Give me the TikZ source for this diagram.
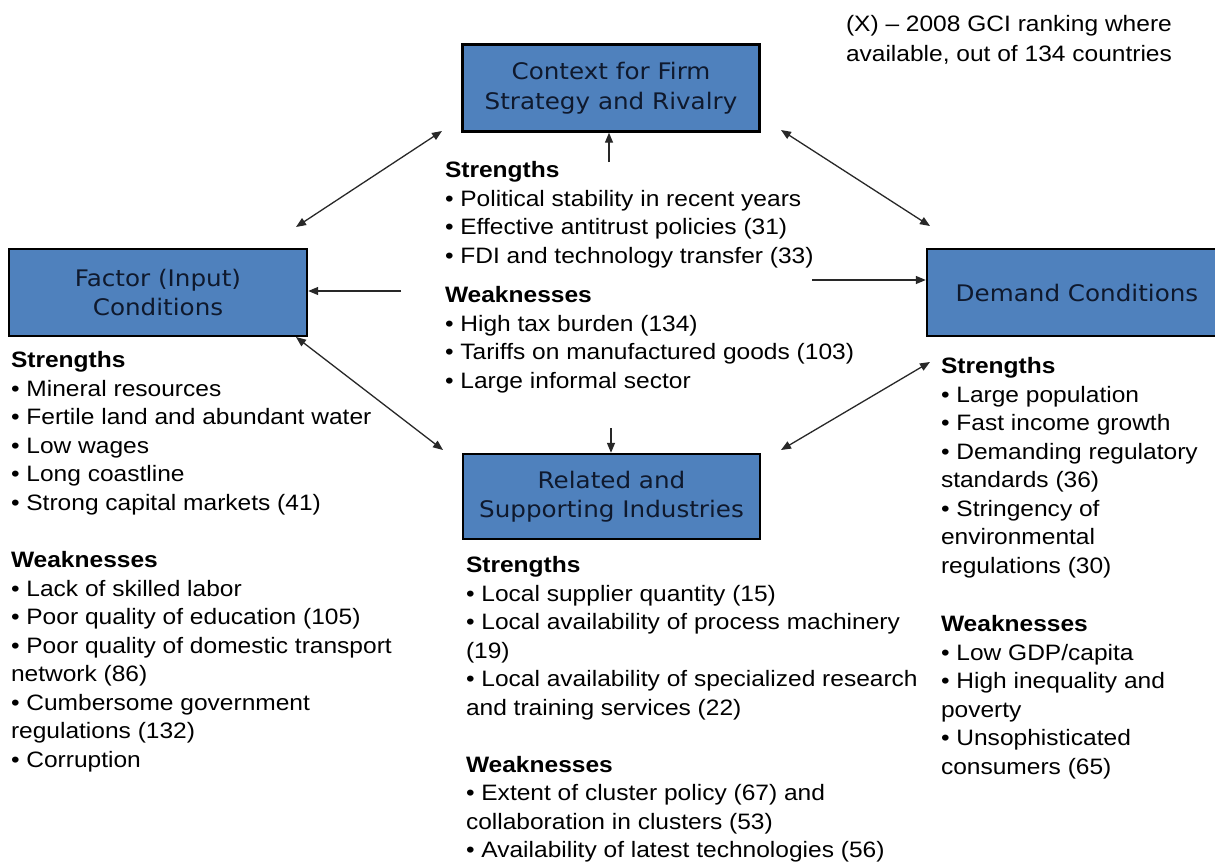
\documentclass[tikz,border=0pt]{standalone}
\usepackage{fontspec}
\setmainfont{Liberation Sans}[FakeStretch=1.1]
\newfontfamily\boxfont{DejaVu Sans}[FakeStretch=1.08]
\usetikzlibrary{arrows.meta}
\definecolor{boxfill}{RGB}{79,129,189}
\definecolor{boxtext}{RGB}{15,25,45}
\definecolor{arrcol}{RGB}{40,40,40}
\begin{document}
\begin{tikzpicture}[x=1pt,y=-1pt,
  box/.style={draw=black, line width=2.4pt, fill=boxfill, inner sep=0pt,
    text=boxtext, align=center,
    font=\boxfont\fontsize{22.8}{29.5}\selectfont},
  tl/.style={anchor=base west, inner sep=0pt, outer sep=0pt,
    font=\fontsize{22.3}{28.5}\selectfont},
  arr/.style={draw=arrcol, line width=1.3pt, -{Triangle[length=10pt,width=8pt]}},
  darr/.style={draw=arrcol, line width=1.3pt, {Triangle[length=10pt,width=8pt]}-{Triangle[length=10pt,width=8pt]}}
]
\useasboundingbox (0,0) rectangle (1215,865);
\clip (0,0) rectangle (1215,865);
\fill[white] (0,0) rectangle (1215,865);

% boxes
\node[box, minimum width=297pt, minimum height=87pt] (ctx) at (611,88) {Context for Firm\\Strategy and Rivalry};
\node[box, minimum width=298pt, minimum height=87pt] (fac) at (158,292.5) {Factor (Input)\\Conditions};
\node[box, minimum width=300pt, minimum height=87pt] (dem) at (1077,292.5) {Demand Conditions};
\node[box, minimum width=297pt, minimum height=85pt] (rel) at (611.5,496.5) {Related and\\Supporting Industries};

% note
\node[tl] (n1) at (846,31) {(X) – 2008 GCI ranking where};
\node[tl] (n2) at (846,61) {available, out of 134 countries};

% centre block
\foreach [count=\i] \t in {\textbf{Strengths},
  • Political stability in recent years,
  • Effective antitrust policies (31),
  • FDI and technology transfer (33)}
  \node[tl] (cs\i) at (445,{177.5+28.5*(\i-1)}) {\t};
\foreach [count=\i] \t in {\textbf{Weaknesses},
  • High tax burden (134),
  • Tariffs on manufactured goods (103),
  • Large informal sector}
  \node[tl] (cw\i) at (445,{302.5+28.5*(\i-1)}) {\t};

% left block
\foreach [count=\i] \t in {\textbf{Strengths},
  • Mineral resources,
  • Fertile land and abundant water,
  • Low wages,
  • Long coastline,
  • Strong capital markets (41)}
  \node[tl] (ls\i) at (11,{367.5+28.5*(\i-1)}) {\t};
\foreach [count=\i] \t in {\textbf{Weaknesses},
  • Lack of skilled labor,
  • Poor quality of education (105),
  • Poor quality of domestic transport,
  network (86),
  • Cumbersome government,
  regulations (132),
  • Corruption}
  \node[tl] (lw\i) at (11,{567.5+28.5*(\i-1)}) {\t};

% right block
\foreach [count=\i] \t in {\textbf{Strengths},
  • Large population,
  • Fast income growth,
  • Demanding regulatory,
  standards (36),
  • Stringency of,
  environmental,
  regulations (30)}
  \node[tl] (rs\i) at (941,{373.5+28.5*(\i-1)}) {\t};
\foreach [count=\i] \t in {\textbf{Weaknesses},
  • Low GDP/capita,
  • High inequality and,
  poverty,
  • Unsophisticated,
  consumers (65)}
  \node[tl] (rw\i) at (941,{631.5+28.5*(\i-1)}) {\t};

% bottom block
\foreach [count=\i] \t in {\textbf{Strengths},
  • Local supplier quantity (15),
  • Local availability of process machinery,
  (19),
  • Local availability of specialized research,
  and training services (22)}
  \node[tl] (bs\i) at (466,{572.5+28.5*(\i-1)}) {\t};
\foreach [count=\i] \t in {\textbf{Weaknesses},
  • Extent of cluster policy (67) and,
  collaboration in clusters (53),
  • Availability of latest technologies (56)}
  \node[tl] (bw\i) at (466,{772+28.5*(\i-1)}) {\t};

% connector end points
\coordinate (up1) at (609,162);
\coordinate (fa) at (401,291);
\coordinate (da) at (812,280);
\coordinate (ra) at (611,428);
\coordinate (d1a) at (296,227); \coordinate (d1b) at (442,131);
\coordinate (d2a) at (781,130); \coordinate (d2b) at (930,226);
\coordinate (d3a) at (296,337); \coordinate (d3b) at (443,450);
\coordinate (d4a) at (781,450); \coordinate (d4b) at (930,362);

% connectors
\draw[arr] (up1) -- (up1 |- ctx.south);
\draw[arr] (fa) -- (fa -| fac.east);
\draw[arr] (da) -- (da -| dem.west);
\draw[arr] (ra) -- (ra |- rel.north);
\draw[darr] (d1a) -- (d1b);
\draw[darr] (d2a) -- (d2b);
\draw[darr] (d3a) -- (d3b);
\draw[darr] (d4a) -- (d4b);
\end{tikzpicture}
\end{document}
